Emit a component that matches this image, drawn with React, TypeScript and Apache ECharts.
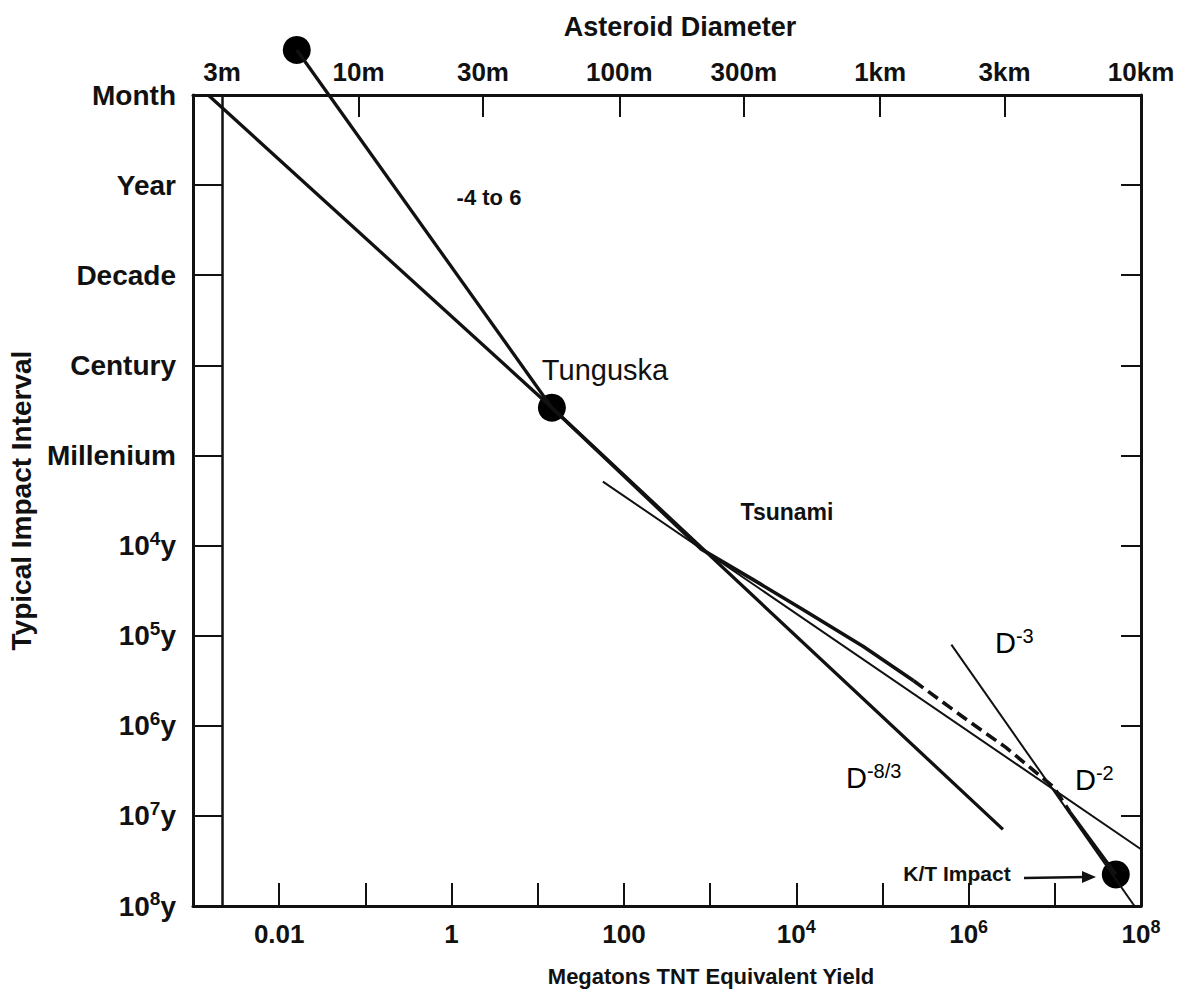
import React, { useEffect, useRef } from "react";
import * as echarts from "echarts";

// ---------- data ----------
// Y axis: typical impact interval, one step per label (top = Month)
const intervalLabels = [
  "Month", "Year", "Decade", "Century", "Millenium",
  "10^4y", "10^5y", "10^6y", "10^7y", "10^8y",
];
// Bottom axis: Megatons TNT equivalent yield (log)
const yieldMin = 0.001;
const yieldMax = 1e8;
const yieldLabelValues = [0.01, 1, 100, 1e4, 1e6, 1e8];
const yieldLabelTexts = ["0.01", "1", "100", "10^4", "10^6", "10^8"];
// Top axis: asteroid diameter in metres
const diameterMin = 2.32;
const diameterMax = 10000;
const diameterLabelValues = [3, 10, 30, 100, 300, 1000, 3000, 10000];
const diameterLabelTexts = ["3m", "10m", "30m", "100m", "300m", "1km", "3km", "10km"];
const diameterTickValues = [10, 30, 100, 300, 1000, 3000];

// Lines: [yield Mt, interval index]
const steepLine = [[0.016, -0.5], [14.6, 3.47]]; // "-4 to 6"
const d83Line = [[0.0015, 0], [14.6, 3.47], [2.5e6, 8.15]]; // D^-8/3
const d2Line = [[57, 4.29], [1e8, 8.37]]; // Tsunami / D^-2
const d3Line = [[6.3e5, 6.1], [8.4e7, 9.0]]; // D^-3
const curveSolid = [[14.6, 3.47], [790, 5.04], [3050, 5.37], [11900, 5.71], [60000, 6.12], [2.3e5, 6.5]];
const curveDashed = [[2.3e5, 6.5], [9.1e5, 6.92], [2.7e6, 7.24], [9.7e6, 7.68], [1.5e7, 7.96]];
const curveTail = [[1.5e7, 7.96], [5.1e7, 8.65]];
const threeMetreLine = [[0.0022, 0], [0.0022, 9]];
const impactEvents = [
  { name: "", value: [0.016, -0.5] },
  { name: "Tunguska", value: [14.6, 3.47] },
  { name: "K/T Impact", value: [5.1e7, 8.65] },
];

// ---------- styling ----------
const INK = "#111";
const FONT = "'Liberation Sans', Arial, Helvetica, sans-serif";

function toRich(s: string): string {
  const m = s.match(/^(.*?)\^([-\d/]+)(.*)$/);
  if (!m) return `{b|${s}}`;
  let out = "";
  if (m[1]) out += `{b|${m[1]}}`;
  out += `{s|${m[2]}}`;
  if (m[3]) out += `{b|${m[3]}}`;
  return out;
}

function richStyle(base: number, sup: number, weight: string = "normal") {
  return {
    b: { fontSize: base, lineHeight: base + 6, fontFamily: FONT, color: INK, fontWeight: weight },
    s: { fontSize: sup, lineHeight: sup + 3, fontFamily: FONT, color: INK, verticalAlign: "top", fontWeight: weight },
  };
}

const near = (a: number, b: number) => Math.abs(a - b) < 1e-6;

export default function App() {
  const ref = useRef<HTMLDivElement>(null);

  useEffect(() => {
    document.body.style.margin = "0";
    document.body.style.overflow = "hidden";
    if (!ref.current) return;
    const chart = echarts.init(ref.current, null, { renderer: "svg" });

    const thick = { color: INK, width: 3.3 };
    const thin = { color: INK, width: 2 };

    const option: any = {
      animation: false,
      backgroundColor: "#fff",
      textStyle: { fontFamily: FONT, color: INK },
      grid: { left: 193, right: 49, top: 95, bottom: 92, containLabel: false, outerBoundsMode: "none" },
      xAxis: [
        {
          type: "log",
          logBase: 10,
          min: yieldMin,
          max: yieldMax,
          interval: 1,
          position: "bottom",
          axisLine: { show: true, onZero: false, lineStyle: { color: INK, width: 3 } },
          axisTick: { show: true, inside: true, length: 23, lineStyle: { color: INK, width: 2 } },
          minorTick: { show: false },
          splitLine: { show: false },
          axisLabel: {
            margin: 12,
            formatter: (v: number) => {
              const i = yieldLabelValues.findIndex((x) => near(Math.log10(x), Math.log10(v)));
              return i < 0 ? "" : toRich(yieldLabelTexts[i]);
            },
            rich: richStyle(26, 18, "bold"),
          },
        },
        {
          type: "value",
          min: Math.log10(diameterMin),
          max: Math.log10(diameterMax),
          position: "top",
          axisLine: { show: true, onZero: false, lineStyle: { color: INK, width: 3 } },
          axisTick: {
            show: true,
            inside: true,
            length: 22,
            customValues: diameterTickValues.map((d) => Math.log10(d)),
            lineStyle: { color: INK, width: 2 },
          },
          splitLine: { show: false },
          axisLabel: {
            margin: 10,
            customValues: diameterLabelValues.map((d) => Math.log10(d)),
            formatter: (v: number) => {
              const i = diameterLabelValues.findIndex((d) => near(Math.log10(d), v));
              return i < 0 ? "" : diameterLabelTexts[i];
            },
            fontSize: 26,
            fontWeight: "bold",
            fontFamily: FONT,
            color: INK,
          },
        },
      ],
      yAxis: [
        {
          type: "value",
          min: 0,
          max: intervalLabels.length - 1,
          interval: 1,
          inverse: true,
          position: "left",
          name: "Typical Impact Interval",
          nameLocation: "middle",
          nameGap: 146,
          nameRotate: 90,
          nameTextStyle: { fontSize: 28, fontWeight: "bold", fontFamily: FONT, color: INK },
          axisLine: { show: true, onZero: false, lineStyle: { color: INK, width: 3 } },
          axisTick: { show: true, inside: true, length: 29, lineStyle: { color: INK, width: 2 } },
          splitLine: { show: false },
          axisLabel: {
            margin: 17,
            formatter: (v: number) => toRich(intervalLabels[Math.round(v)] ?? ""),
            rich: richStyle(28, 19, "bold"),
          },
        },
        {
          type: "value",
          min: 0,
          max: intervalLabels.length - 1,
          interval: 1,
          inverse: true,
          position: "right",
          axisLine: { show: true, onZero: false, lineStyle: { color: INK, width: 3 } },
          axisTick: { show: true, inside: true, length: 20, lineStyle: { color: INK, width: 2 } },
          splitLine: { show: false },
          axisLabel: { show: false },
        },
      ],
      series: [
        { type: "line", name: "3 m", data: threeMetreLine, symbol: "none", lineStyle: { color: INK, width: 2.5 }, silent: true },
        { type: "line", name: "-4 to 6", data: steepLine, symbol: "none", clip: false, lineStyle: thick, silent: true },
        { type: "line", name: "D-8/3", data: d83Line, symbol: "none", lineStyle: thick, silent: true },
        { type: "line", name: "D-2", data: d2Line, symbol: "none", lineStyle: thin, silent: true },
        { type: "line", name: "D-3", data: d3Line, symbol: "none", lineStyle: thin, silent: true },
        { type: "line", name: "curve", data: curveSolid, symbol: "none", lineStyle: { color: INK, width: 3.6 }, silent: true },
        { type: "line", name: "curve dashed", data: curveDashed, symbol: "none", lineStyle: { color: INK, width: 3.6, type: [12, 6] }, silent: true },
        { type: "line", name: "curve tail", data: curveTail, symbol: "none", lineStyle: { color: INK, width: 3.6 }, silent: true },
        {
          type: "scatter",
          name: "impacts",
          data: impactEvents,
          symbol: "circle",
          symbolSize: 28,
          clip: false,
          itemStyle: { color: "#000", opacity: 1 },
          silent: true,
        },
      ],
      graphic: [
        {
          type: "text", x: 680, y: 27,
          style: { text: "Asteroid Diameter", font: `bold 27px ${FONT}`, fill: INK, align: "center", verticalAlign: "middle" },
        },
        {
          type: "text", x: 711, y: 976,
          style: { text: "Megatons TNT Equivalent Yield", font: `bold 22px ${FONT}`, fill: INK, align: "center", verticalAlign: "middle" },
        },
        {
          type: "text", x: 489, y: 197,
          style: { text: "-4 to 6", font: `bold 22px ${FONT}`, fill: INK, align: "center", verticalAlign: "middle" },
        },
        {
          type: "text", x: 605, y: 370,
          style: { text: "Tunguska", font: `29px ${FONT}`, fill: INK, align: "center", verticalAlign: "middle" },
        },
        {
          type: "text", x: 787, y: 512,
          style: { text: "Tsunami", font: `bold 23px ${FONT}`, fill: INK, align: "center", verticalAlign: "middle" },
        },
        {
          type: "text", x: 846, y: 778,
          style: { text: toRich("D^-8/3"), rich: richStyle(29, 20), align: "left", verticalAlign: "middle" },
        },
        {
          type: "text", x: 995, y: 643,
          style: { text: toRich("D^-3"), rich: richStyle(29, 20), align: "left", verticalAlign: "middle" },
        },
        {
          type: "text", x: 1075, y: 780,
          style: { text: toRich("D^-2"), rich: richStyle(29, 20), align: "left", verticalAlign: "middle" },
        },
        {
          type: "text", x: 957, y: 873,
          style: { text: "K/T Impact", font: `bold 21px ${FONT}`, fill: INK, align: "center", verticalAlign: "middle" },
        },
        {
          type: "line",
          shape: { x1: 1024, y1: 878, x2: 1086, y2: 877 },
          style: { stroke: INK, lineWidth: 2.5 },
        },
        {
          type: "polygon",
          shape: { points: [[1096, 877], [1082, 871], [1082, 883]] },
          style: { fill: INK },
        },
      ],
    };

    chart.setOption(option);
    return () => chart.dispose();
  }, []);

  return <div ref={ref} style={{ width: 1190, height: 998, background: "#fff" }} />;
}
